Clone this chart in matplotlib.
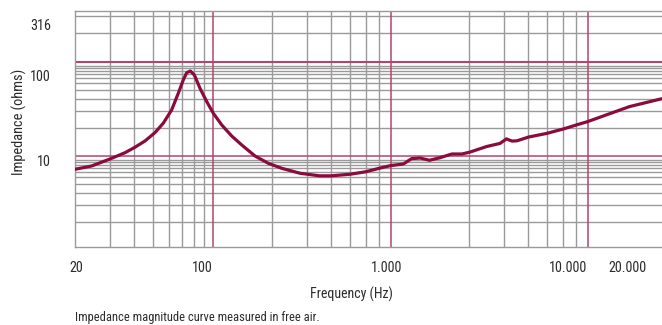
import matplotlib
matplotlib.use("Agg")
import matplotlib.pyplot as plt
from matplotlib import font_manager

# ---------------- data ----------------
freq_hz = [20, 24.3, 30.1, 35.9, 40.3, 45.3, 50.9, 56.1, 61.9, 66.9, 70.9, 73.8, 77.0,
           80.7, 86.2, 93.3, 100.7, 111.1, 124.9, 140.4, 163.9, 191.5, 224.0, 277.5,
           349, 400, 500, 600, 700, 800, 928, 1022, 1128, 1260, 1426, 1636, 1841,
           2022, 2456, 2872, 3099, 3306, 3505, 4012, 4972, 6036, 7178, 8000, 13040, 19086]
impedance_ohm = [7.22, 7.83, 9.29, 10.84, 12.38, 14.44, 17.7, 22.3, 30.9, 46.5, 64.4, 76.9, 80.2,
                 72.7, 52.5, 37.8, 28.5, 21.4, 16.3, 13.1, 10.0, 8.36, 7.40, 6.55,
                 6.15, 6.15, 6.4, 6.8, 7.4, 7.9, 8.22, 9.36, 9.52, 9.0, 9.59, 10.5, 10.5,
                 11.0, 12.6, 13.6, 15.2, 14.4, 14.5, 15.9, 17.4, 19.4, 21.7, 23.2, 33.5, 40.7]

grid_x_minor = [30, 40, 50, 60, 70, 80, 90, 200, 300, 400, 500, 600, 700,
                2000, 3000, 4000, 5000, 6000, 7000]
grid_x_major = [100, 800, 8000]
grid_y_minor = [2, 3, 4, 5, 6, 6.75, 7.4, 8.0, 8.55, 9.1,
                20, 30, 40, 50, 60, 67.5, 74, 80, 85.5, 91, 205, 308]
grid_y_major = [10, 100]

xtick_labels = ["20", "100", "1.000", "10.000", "20.000"]
xtick_pos = [20.2, 89.0, 764, 6325, 12680]
ytick_labels = ["10", "100", "316"]
ytick_pos = [8.9, 71, 253]

x_range = (20, 19086)
y_range = (1.084, 351)

# ---------------- fonts ----------------
names = {f.name for f in font_manager.fontManager.ttflist}
family = "DejaVu Sans"
for cand in ["Liberation Sans Narrow", "Roboto Condensed", "Open Sans Condensed",
             "DejaVu Sans Condensed"]:
    if cand in names:
        family = cand
        break
narrow = family != "DejaVu Sans"
plt.rcParams["font.family"] = [family, "DejaVu Sans"]
scale = 1.0 if narrow else 0.8

TEXT = "#2b2b2b"
GRAY = "#9a9a9a"
RED_GRID = "#b3456f"
CURVE = "#8a0b3d"

fig = plt.figure(figsize=(6.62, 3.25), dpi=100)
ax = fig.add_axes([75 / 662, (325 - 246.7) / 325, 1 - 75 / 662, (246.7 - 10.7) / 325])
ax.set_xscale("log")
ax.set_yscale("log")
ax.set_xlim(*x_range)
ax.set_ylim(*y_range)

for v in grid_x_minor:
    ax.axvline(v, color=GRAY, lw=1.0, zorder=1)
for v in grid_y_minor:
    ax.axhline(v, color=GRAY, lw=1.0, zorder=1)
for v in grid_x_major:
    ax.axvline(v, color=RED_GRID, lw=1.1, zorder=2)
for i, v in enumerate(grid_y_major):
    ax.axhline(v, color=RED_GRID, lw=1.1 if i == 0 else 1.5, zorder=2)

ax.plot(freq_hz, impedance_ohm, color=CURVE, lw=2.3, solid_capstyle="round",
        solid_joinstyle="round", zorder=5)

for s in ["left", "top", "bottom"]:
    ax.spines[s].set_color(GRAY)
    ax.spines[s].set_linewidth(1.0)
ax.spines["right"].set_visible(False)

ax.xaxis.set_minor_locator(matplotlib.ticker.NullLocator())
ax.yaxis.set_minor_locator(matplotlib.ticker.NullLocator())
ax.set_xticks(xtick_pos)
ax.set_xticklabels(xtick_labels)
ax.set_yticks(ytick_pos)
ax.set_yticklabels(ytick_labels)
ax.tick_params(axis="both", length=0, colors=TEXT, labelsize=10.2 * scale)
ax.tick_params(axis="x", pad=10.5)
ax.tick_params(axis="y", pad=17.3)

ax.set_xlabel("Frequency (Hz)", fontsize=10 * scale, color=TEXT)
ax.xaxis.set_label_coords((351 - 75) / (662 - 75), -(286.5 - 246.7) / 236)
ax.set_ylabel("Impedance (ohms)", fontsize=10.4 * scale, color=TEXT)
ax.yaxis.set_label_coords(-(75 - 27) / (662 - 75), (246.7 - 122) / 236)

fig.text(75 / 662, 1 - 318 / 325, "Impedance magnitude curve measured in free air.",
         fontsize=9.0 * scale, color=TEXT, ha="left", va="center")

fig.savefig("out.png", dpi=100)
